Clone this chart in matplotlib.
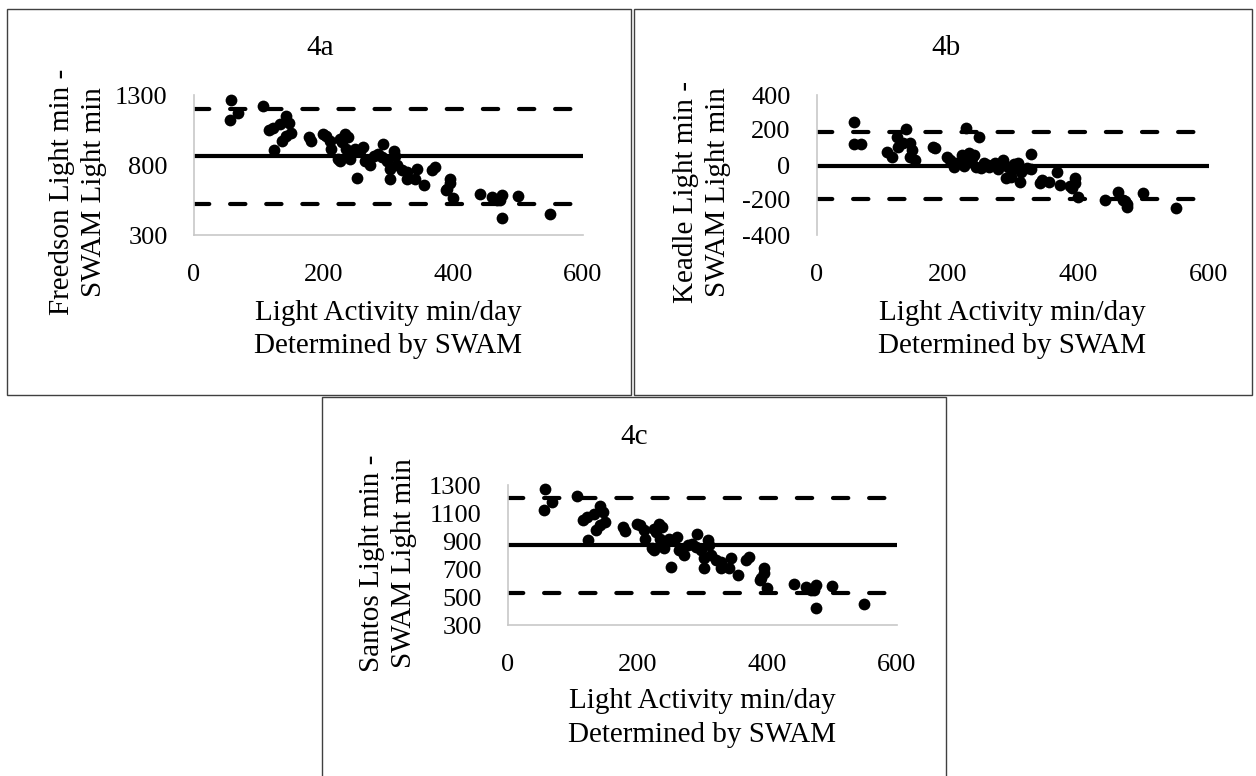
import matplotlib
matplotlib.use("Agg")
import matplotlib.pyplot as plt
from matplotlib.patches import Rectangle

plt.rcParams['font.family'] = ['Liberation Serif', 'DejaVu Serif']
plt.rcParams['lines.scale_dashes'] = False
plt.rcParams['axes.unicode_minus'] = False

# SWAM light activity (min/day), shared x for all three panels
swam_light = [57, 68, 56, 107, 142, 146, 132, 122, 115, 150, 142, 136, 124,
              177, 181, 199, 204, 209, 212, 222, 225, 233, 238, 228, 225, 235,
              243, 240, 248, 256, 261, 251, 264, 272, 277, 284, 292, 290, 297,
              302, 308, 310, 313, 321, 302, 328, 328, 341, 344, 355, 367, 372,
              395, 395, 390, 388, 400, 441, 460, 475, 468, 472, 499, 475, 549]

# Freedson - SWAM light min
freedson_diff = [1266, 1173, 1118, 1219, 1149, 1102, 1090, 1067, 1050, 1032, 1008,
                 973, 907, 998, 970, 1020, 1008, 973, 914, 844, 985, 1020, 997, 961,
                 832, 914, 891, 844, 914, 902, 926, 708, 832, 797, 867, 879, 949,
                 856, 832, 773, 902, 867, 797, 762, 703, 750, 703, 703, 773, 656,
                 762, 785, 703, 668, 632, 621, 562, 590, 571, 583, 548, 548, 576,
                 419, 449]

# Keadle - SWAM light min
keadle_diff = [247, 118, 118, 76, 124, 86, 124, 162, 48, 29, 48, 204, 105,
               105, 100, 48, 29, -10, 10, 57, 40, 67, 38, 209, -5, 20,
               -10, 55, 162, 10, 0, -15, -10, 10, -20, 29, -10, -76, -67,
               -19, 10, -95, -38, -19, 5, 63, -20, -105, -86, -95, -38, -114,
               -76, -105, -133, -120, -181, -200, -152, -238, -200, -205, -162, -225, -244]

# Santos - SWAM light min
santos_diff = [1269, 1176, 1121, 1222, 1152, 1105, 1093, 1070, 1053, 1035, 1011,
               976, 910, 1001, 973, 1023, 1011, 976, 917, 847, 988, 1023, 1000, 964,
               835, 917, 894, 847, 917, 905, 929, 711, 835, 800, 870, 882, 952,
               859, 835, 776, 905, 870, 800, 765, 706, 753, 706, 706, 776, 659,
               765, 788, 706, 671, 635, 624, 565, 593, 574, 586, 551, 551, 579,
               422, 452]

# mean bias and limits of agreement
freedson_lines = [864, 525, 1203]
keadle_lines = [-3, -196, 191]
santos_lines = [868, 528, 1208]

x_ticks = [0, 200, 400, 600]
W, H = 1256, 776
FS = 19     # tick labels
TFS = 21    # titles and axis titles

fig = plt.figure(figsize=(W / 100, H / 100), dpi=100)


def box(left, top, right, bottom):
    fig.add_artist(Rectangle((left / W, 1 - bottom / H), (right - left) / W,
                             (bottom - top) / H, transform=fig.transFigure,
                             fill=False, edgecolor='#404040', lw=1.0))


def panel(rect, title, title_xy, ylabel, ylabel_xy, xlabel_xy, y, lines,
          ylim, yticks, zero_axis=False):
    left, top, right, bottom = rect
    ax = fig.add_axes([left / W, 1 - bottom / H, (right - left) / W, (bottom - top) / H])
    ax.scatter(swam_light, y, s=72, color='black', zorder=3, linewidths=0,
               clip_on=False)
    mean, lo, hi = lines
    ax.axhline(mean, color='black', lw=3.0, zorder=2)
    for v in (lo, hi):
        ax.axhline(v, color='black', lw=3.0, dashes=(11, 15),
                   dash_capstyle='round', zorder=2)
    ax.set_xlim(0, 600)
    ax.set_ylim(*ylim)
    ax.set_xticks(x_ticks)
    ax.set_yticks(yticks)
    ax.tick_params(length=0, labelsize=FS)
    ax.tick_params(axis='x', pad=21)
    ax.tick_params(axis='y', pad=19)
    for s in ('top', 'right'):
        ax.spines[s].set_visible(False)
    ax.spines['left'].set_color('#c8c8c8')
    ax.spines['left'].set_linewidth(1.2)
    if zero_axis:
        ax.spines['bottom'].set_visible(False)
        ax.axhline(0, color='#c8c8c8', lw=1.2, zorder=1)
    else:
        ax.spines['bottom'].set_color('#c8c8c8')
        ax.spines['bottom'].set_linewidth(1.2)
    ax.set_facecolor('none')
    fig.text(title_xy[0] / W, 1 - title_xy[1] / H, title, fontsize=TFS,
             ha='center', va='center')
    fig.text(ylabel_xy[0] / W, 1 - ylabel_xy[1] / H, ylabel, fontsize=TFS,
             rotation=90, ha='center', va='center', multialignment='center',
             linespacing=1.3)
    fig.text(xlabel_xy[0] / W, 1 - xlabel_xy[1] / H,
             'Light Activity min/day\nDetermined by SWAM', fontsize=TFS,
             ha='center', va='center', multialignment='center', linespacing=1.35)
    return ax


box(7, 9, 631, 395)
box(634, 9, 1252, 395)
box(322, 397, 946, 790)

panel((194, 95, 583, 235), '4a', (320, 48), 'Freedson Light min -\nSWAM Light min',
      (78, 192), (388, 329), freedson_diff, freedson_lines, (300, 1300),
      [300, 800, 1300])
panel((817, 95, 1209, 235), '4b', (946, 48), 'Keadle Light min -\nSWAM Light min',
      (702, 192), (1012, 329), keadle_diff, keadle_lines, (-400, 400),
      [-400, -200, 0, 200, 400], zero_axis=True)
panel((508, 485, 897, 625), '4c', (634, 437), 'Santos Light min -\nSWAM Light min',
      (388, 563), (702, 718), santos_diff, santos_lines, (300, 1300),
      [300, 500, 700, 900, 1100, 1300])

fig.savefig('out.png', dpi=100)
